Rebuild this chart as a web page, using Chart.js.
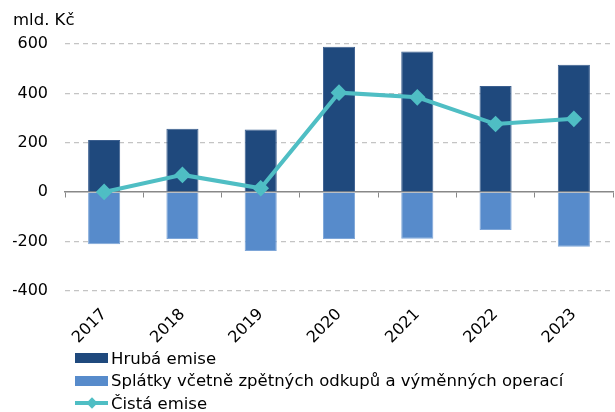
<!DOCTYPE html>
<html><head><meta charset="utf-8">
<script src="https://cdn.jsdelivr.net/npm/chart.js@4/dist/chart.umd.min.js"></script>
<style>
html,body{margin:0;padding:0;background:#fff;}
#wrap{position:relative;width:615px;height:412px;}
#title{position:absolute;left:13px;top:10px;font:16.5px "DejaVu Sans";color:#000;}
#legend{position:absolute;left:75px;top:347px;font:16.5px "DejaVu Sans";color:#000;}
.row{height:22.5px;display:flex;align-items:center;white-space:nowrap;}
.sw{width:33px;height:10px;margin-right:3px;position:relative;}
.ln{width:33px;height:4px;margin-right:3px;position:relative;background:#4FBEC4;}
.ln::after{content:"";position:absolute;left:12.5px;top:-2.5px;width:8px;height:8px;background:#4FBEC4;transform:rotate(45deg);}
</style></head>
<body><div id="wrap"><canvas id="c" width="615" height="412"></canvas>
<div id="title">mld. Kč</div>
<div id="legend"></div></div>
<script>
const categories = ['2017','2018','2019','2020','2021','2022','2023'];
const grossIssue = [211, 257, 254, 589, 570, 430, 516];
const repayments = [-211, -189, -238, -189, -188, -153, -221];
const netIssue = [1, 70, 16, 403, 384, 276, 297];
const yTicks = [-400, -200, 0, 200, 400, 600];
const seriesNames = ['Hrubá emise', 'Splátky včetně zpětných odkupů a výměnných operací', 'Čistá emise'];
const colors = ['#1F497D', '#578BCB', '#4FBEC4'];

const leg = document.getElementById('legend');
seriesNames.forEach((n, i) => {
  const r = document.createElement('div'); r.className = 'row';
  const s = document.createElement('div');
  if (i < 2) { s.className = 'sw'; s.style.background = colors[i]; } else { s.className = 'ln'; }
  r.appendChild(s);
  const t = document.createElement('span'); t.textContent = n; r.appendChild(t);
  leg.appendChild(r);
});

new Chart(document.getElementById('c'), {
  data: {
    labels: categories,
    datasets: [
      { type: 'line', label: seriesNames[2], data: netIssue, borderColor: colors[2], backgroundColor: colors[2],
        borderWidth: 4, pointStyle: 'rectRot', pointRadius: 5.5, pointHoverRadius: 5.5, tension: 0, order: 0, clip: false },
      { type: 'bar', label: seriesNames[0], data: grossIssue, backgroundColor: colors[0], borderColor: '#3b5f8f', borderWidth: 1,
        barPercentage: 0.41, categoryPercentage: 1, order: 1 },
      { type: 'bar', label: seriesNames[1], data: repayments, backgroundColor: colors[1], borderColor: '#7ea6d8', borderWidth: 1,
        barPercentage: 0.41, categoryPercentage: 1, order: 1 }
    ]
  },
  options: {
    responsive: false, animation: false, devicePixelRatio: 1,
    layout: { autoPadding: false, padding: { left: 13, right: 2, top: 44, bottom: 61 } },
    plugins: { legend: { display: false }, tooltip: { enabled: false } },
    scales: {
      x: { stacked: true, offset: true,
        afterFit: (s) => { s.height = 60; s.paddingLeft = 0; s.paddingRight = 0; },
        grid: { display: false }, border: { display: false },
        ticks: { minRotation: 45, maxRotation: 45, color: '#000', padding: 6, font: { family: 'DejaVu Sans', size: 16 } } },
      x2: { type: 'category', labels: categories, position: { y: 0 }, offset: true,
        grid: { offset: true, drawOnChartArea: false, drawTicks: true, tickLength: 5, color: '#888', lineWidth: 1 },
        border: { display: true, color: '#888', width: 1.5 },
        ticks: { display: false } },
      y: { min: -400, max: 600,
        afterFit: (s) => { s.width = 52; },
        afterBuildTicks: (s) => { s.ticks = yTicks.map(v => ({ value: v })); },
        grid: { drawTicks: false, color: (ctx) => ctx.tick && ctx.tick.value === 0 ? 'rgba(0,0,0,0)' : '#c4c4c4', lineWidth: 1.3 },
        border: { display: false, dash: [5, 4] },
        ticks: { padding: 17, color: '#000', font: { family: 'DejaVu Sans', size: 16 } } }
    }
  }
});
</script></body></html>
